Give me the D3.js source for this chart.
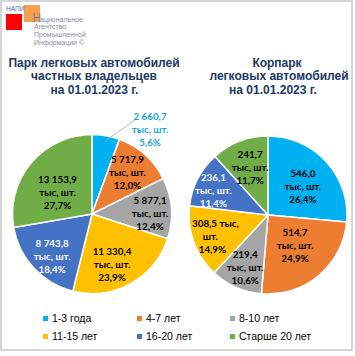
<!DOCTYPE html>
<html><head><meta charset="utf-8">
<script src="https://cdn.jsdelivr.net/npm/d3@7"></script>
<style>
html,body{margin:0;padding:0;background:#fff;}
svg{display:block;}
</style></head>
<body>
<svg id="c" width="355" height="356"></svg>
<script>
// ---- data ----
const categories = ["1-3 года", "4-7 лет", "8-10 лет", "11-15 лет", "16-20 лет", "Старше 20 лет"];
const privateValues = [2660.7, 5717.9, 5877.1, 11330.4, 8743.8, 13153.9];
const corporateValues = [546.0, 514.7, 219.4, 308.5, 236.1, 241.7];
const titlePrivate = ["Парк легковых автомобилей", "частных владельцев", "на 01.01.2023 г."];
const titleCorporate = ["Корпарк", "легковых автомобилей", "на 01.01.2023 г."];
const unitLabel = "тыс, шт.";

// ---- styles / layout ----
const colors = ["#00B0F0", "#ED7D31", "#A5A5A5", "#FFC000", "#4472C4", "#70AD47"];
const svg = d3.select("#c");
const ru = d3.formatLocale({decimal: ",", thousands: " ", grouping: [3], currency: ["", ""]});
const fmtVal = ru.format(",.1f");
const fmtPct = ru.format(".1f");

// frame
svg.append("rect").attr("x", 1).attr("y", 1).attr("width", 351).attr("height", 349)
  .attr("fill", "#fff").attr("stroke", "#C8C8C8").attr("stroke-width", 1.5);

// logo
const logo = svg.append("g");
const narrow = "Liberation Sans Narrow, Liberation Sans, Arial";
logo.append("rect").attr("x", 6).attr("y", 14).attr("width", 16).attr("height", 16).attr("fill", "#FF0000");
logo.append("rect").attr("x", 24).attr("y", 5).attr("width", 16).attr("height", 17).attr("fill", "#F5A04E");
logo.append("text").attr("x", 6).attr("y", 11).attr("font-family", narrow).attr("font-size", 6.5)
  .attr("fill", "#4F6FA8").text("НАПИ");
logo.append("text").attr("x", 32.5).attr("y", 21.5).attr("font-family", narrow).attr("font-size", 12)
  .attr("fill", "#7F7F7F").text("Н");
const logoLines = [["ациональное", 40, 21.5], ["Агентство", 34, 29], ["Промышленной", 34, 37], ["Информации ©", 34, 45]];
logoLines.forEach(l => logo.append("text").attr("x", l[1]).attr("y", l[2])
  .attr("font-family", narrow).attr("font-size", 7).attr("fill", "#8C8CA6").text(l[0]));

// titles
function title(lines, xs) {
  lines.forEach((t, i) => svg.append("text")
    .attr("x", xs[i]).attr("y", 66.5 + i * 13.5)
    .attr("text-anchor", "middle")
    .attr("font-family", "Liberation Sans, Arial").attr("font-weight", "bold").attr("font-size", 12)
    .attr("fill", "#203864").text(t));
}
title(titlePrivate, [94, 94, 94.5]);
title(titleCorporate, [277, 279, 273]);

// pies
const pie = d3.pie().sort(null).value(d => d);
function drawPie(values, cx, cy, r, labelCfg) {
  const total = d3.sum(values);
  const arcs = pie(values);
  const arc = d3.arc().innerRadius(0).outerRadius(r);
  const lblArc = d3.arc().innerRadius(r * 0.65).outerRadius(r * 0.65);
  const g = svg.append("g").attr("transform", `translate(${cx},${cy})`);
  g.selectAll("path").data(arcs).join("path")
    .attr("d", arc).attr("fill", (d, i) => colors[i])
    .attr("stroke", "#fff").attr("stroke-width", 1.5).attr("stroke-linejoin", "round");
  arcs.forEach((a, i) => {
    const cfg = labelCfg[i];
    const c = lblArc.centroid(a);
    const x = c[0] + cfg.dx, y = c[1] + cfg.dy;
    const pct = fmtPct(values[i] / total * 100) + "%";
    const lines = cfg.split ? [fmtVal(values[i]) + " тыс,", "шт.", pct] : [fmtVal(values[i]), unitLabel, pct];
    if (cfg.leader) {
      const p0 = d3.arc().innerRadius(r * 0.93).outerRadius(r * 0.93).centroid(a);
      g.append("line").attr("x1", p0[0] + cfg.leader[0]).attr("y1", p0[1] + cfg.leader[1])
        .attr("x2", x + cfg.leader[2]).attr("y2", y + cfg.leader[3])
        .attr("stroke", "#A6A6A6").attr("stroke-width", 0.8);
    }
    const t = g.append("text").attr("text-anchor", "middle")
      .attr("font-family", "Lato, Carlito, Calibri, sans-serif").attr("font-weight", "bold").attr("font-size", 9.8)
      .attr("fill", cfg.color || "#000");
    lines.forEach((s, k) => t.append("tspan").attr("x", x + (cfg.lx ? cfg.lx[k] : 0)).attr("y", y + (k - 1) * 13 + 3.5).text(s));
  });
}
drawPie(privateValues, 92, 214, 79.5, [
  {dx: 49, dy: -34, color: "#14A6E0", leader: [0, 0, -15, -9]},
  {dx: 1, dy: -3.5},
  {dx: 6.5, dy: 3},
  {dx: -5, dy: 5},
  {dx: -2, dy: 7, color: "#fff"},
  {dx: 5, dy: 12}
]);
drawPie(corporateValues, 268, 215, 79, [
  {dx: -3, dy: 6},
  {dx: -6, dy: -8.5},
  {dx: -2, dy: 6},
  {dx: -9.4, dy: 4, split: true, lx: [5, 0, 2]},
  {dx: -9, dy: -1, color: "#fff"},
  {dx: 0.5, dy: 0}
]);

// legend
const legX = [43, 137, 230];
const legend = svg.append("g");
categories.forEach((c, i) => {
  const col = i % 3, row = Math.floor(i / 3);
  const x = legX[col], y = 318.5 + row * 18;
  legend.append("rect").attr("x", x).attr("y", y - 2.5).attr("width", 5).attr("height", 5).attr("fill", colors[i]);
  legend.append("text").attr("x", x + 9).attr("y", y + 3.8)
    .attr("font-family", "Liberation Sans, Arial").attr("font-size", 10.5).attr("fill", "#000").text(c);
});
</script>
</body></html>
